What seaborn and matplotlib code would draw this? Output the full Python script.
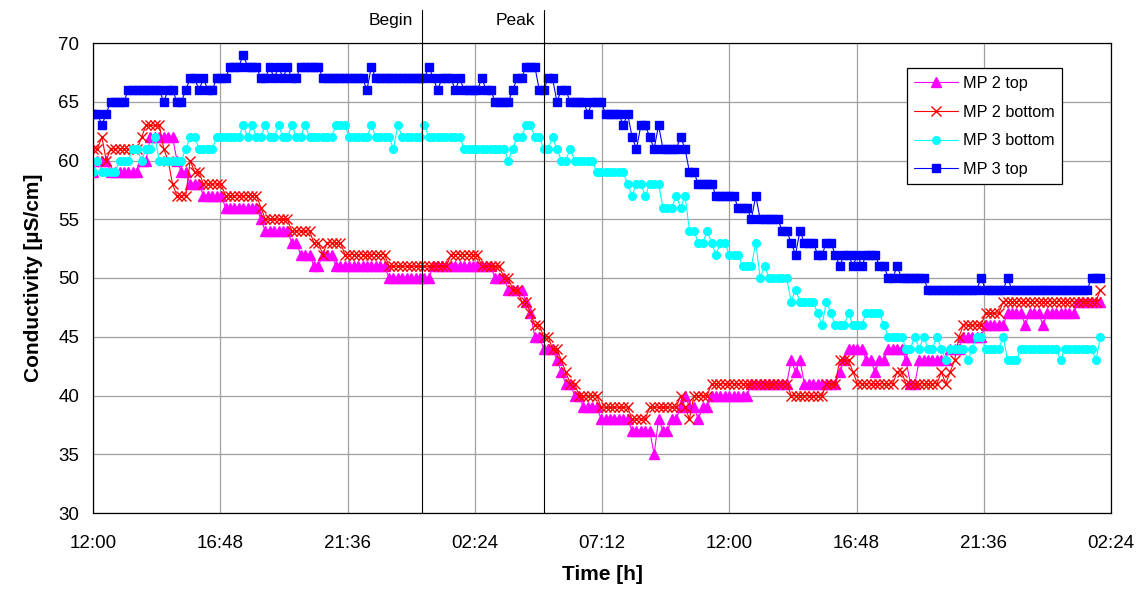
import numpy as np
import pandas as pd
import matplotlib
matplotlib.use("Agg")
import matplotlib.pyplot as plt
import matplotlib.dates as mdates
import seaborn as sns

mp2_top = [(59, 1), (60, 3), (59, 7), (60, 2), (62, 6), (60, 1), (59, 2), (58, 3),
           (57, 5), (56, 8), (55, 1), (54, 6), (53, 2), (52, 3), (51, 2), (52, 3),
           (51, 12), (50, 10), (51, 14), (50, 3), (49, 4), (48, 1), (47, 1), (45, 2),
           (44, 3), (43, 1), (42, 1), (41, 2), (40, 2), (39, 4), (38, 7), (37, 5),
           (35, 1), (38, 1), (37, 2), (38, 2), (39, 1), (40, 1), (39, 2), (38, 1),
           (39, 2), (40, 9), (41, 9), (43, 1), (42, 1), (43, 1), (41, 8), (42, 1),
           (43, 1), (44, 4), (43, 2), (42, 1), (43, 2), (44, 4), (43, 1), (41, 2),
           (43, 7), (44, 3), (45, 5), (46, 5), (47, 4), (46, 1), (47, 3), (46, 1),
           (47, 7), (48, 6)]

mp2_bottom = [(61, 2), (62, 1), (60, 1), (61, 7), (62, 1), (63, 4), (61, 1), (60, 1),
              (58, 1), (57, 3), (60, 1), (59, 2), (58, 5), (57, 8), (56, 1), (55, 6),
              (54, 5), (53, 2), (52, 1), (53, 4), (52, 10), (51, 14), (52, 7), (51, 5),
              (50, 2), (49, 2), (48, 2), (47, 1), (46, 2), (45, 2), (44, 2), (43, 1),
              (42, 1), (41, 2), (40, 5), (39, 7), (38, 4), (39, 7), (40, 1), (39, 1),
              (38, 1), (40, 4), (41, 18), (40, 8), (41, 3), (43, 3), (42, 1), (41, 9),
              (42, 2), (41, 8), (42, 1), (41, 1), (42, 1), (43, 1), (45, 1), (46, 5),
              (47, 4), (48, 22), (49, 1)]

mp3_bottom = [(59, 1), (60, 1), (59, 4), (60, 3), (61, 2), (60, 1), (61, 2), (62, 1),
              (60, 6), (61, 1), (62, 2), (61, 4), (62, 6), (63, 1), (62, 1), (63, 1),
              (62, 2), (63, 1), (62, 2), (63, 1), (62, 2), (63, 1), (62, 2), (63, 1),
              (62, 6), (63, 3), (62, 5), (63, 1), (62, 4), (61, 1), (63, 1), (62, 5),
              (63, 1), (62, 8), (61, 10), (60, 1), (61, 1), (62, 2), (63, 2), (62, 2),
              (61, 2), (62, 1), (61, 1), (60, 2), (61, 1), (60, 5), (59, 7), (58, 1),
              (57, 1), (58, 2), (57, 1), (58, 3), (56, 3), (57, 1), (56, 1), (57, 1),
              (54, 2), (53, 2), (54, 1), (53, 1), (52, 1), (53, 2), (52, 3), (51, 3),
              (53, 1), (50, 1), (51, 1), (50, 5), (48, 1), (49, 1), (48, 4), (47, 1),
              (46, 1), (48, 1), (47, 1), (46, 3), (47, 1), (46, 3), (47, 4), (46, 1),
              (45, 4), (44, 2), (45, 1), (44, 1), (45, 1), (44, 2), (45, 1), (44, 1),
              (43, 1), (44, 4), (43, 1), (44, 1), (45, 2), (44, 4), (45, 1), (43, 3),
              (44, 9), (43, 1), (44, 7), (43, 1), (45, 1)]

mp3_top = [(64, 2), (63, 1), (64, 1), (65, 4), (66, 8), (65, 1), (66, 2), (65, 2),
           (66, 1), (67, 2), (66, 1), (67, 1), (66, 2), (67, 3), (68, 3), (69, 1),
           (68, 3), (67, 2), (68, 1), (67, 1), (68, 1), (67, 1), (68, 1), (67, 2),
           (68, 5), (67, 10), (66, 1), (68, 1), (67, 12), (68, 1), (67, 1), (66, 1),
           (67, 3), (66, 1), (67, 1), (66, 4), (67, 1), (66, 2), (65, 4), (66, 1),
           (67, 2), (68, 3), (66, 2), (67, 2), (65, 1), (66, 2), (65, 4), (64, 1),
           (65, 3), (64, 4), (63, 1), (64, 1), (62, 1), (61, 1), (63, 2), (62, 1),
           (61, 1), (63, 1), (61, 4), (62, 1), (61, 1), (59, 2), (58, 4), (57, 5),
           (56, 3), (55, 1), (57, 1), (55, 5), (54, 2), (53, 1), (52, 1), (54, 1),
           (53, 3), (52, 2), (53, 2), (52, 1), (51, 1), (52, 2), (51, 1), (52, 1),
           (51, 1), (52, 3), (51, 2), (50, 2), (51, 1), (50, 6), (49, 12), (50, 1),
           (49, 5), (50, 1), (49, 18), (50, 3)]

series_names = ["MP 2 top", "MP 2 bottom", "MP 3 bottom", "MP 3 top"]
series_runs = [mp2_top, mp2_bottom, mp3_bottom, mp3_top]
colors = ["#ff00ff", "#ff0000", "#00ffff", "#0000ff"]
markers = ["^", "x", "o", "s"]
marker_sizes = [6.5, 6.5, 5.5, 5.5]

events = {"Begin": 12.4, "Peak": 17.0}   # Stunden nach Start
start = pd.Timestamp("2000-01-01 12:00")


def expand(runs):
    vals = [v for v, n in runs]
    counts = [n for v, n in runs]
    return np.repeat(vals, counts)


sns.set_theme(style="white")
plt.rcParams['font.family'] = ['Liberation Sans', 'DejaVu Sans']
plt.rcParams['text.color'] = 'black'
plt.rcParams['axes.labelcolor'] = 'black'
plt.rcParams['xtick.color'] = 'black'
plt.rcParams['ytick.color'] = 'black'

fig = plt.figure(figsize=(11.45, 5.89), dpi=100)
ax = fig.add_axes([93 / 1145, 1 - 513 / 589, 1018 / 1145, 470 / 589])

for name, runs, col, mk, ms in zip(series_names, series_runs, colors, markers, marker_sizes):
    y = expand(runs)
    t = pd.date_range(start, periods=len(y), freq="10min")
    sns.lineplot(x=t, y=y, ax=ax, color=col, marker=mk, markersize=ms,
                 markeredgecolor=col, markeredgewidth=1.0, linewidth=0.8,
                 label=name)

# Achsen
end = start + pd.Timedelta(hours=38.4)
ax.set_xlim(start, end)
ax.set_ylim(30, 70)
ax.set_yticks(range(30, 71, 5))
ax.set_xticks(pd.date_range(start, periods=9, freq="288min"))
ax.xaxis.set_major_formatter(mdates.DateFormatter("%H:%M"))
ax.grid(True, color="#a0a0a0", linewidth=0.9)
ax.set_axisbelow(True)
for s in ax.spines.values():
    s.set_color("black")
    s.set_linewidth(0.9)
ax.tick_params(axis="both", direction="out", length=4, width=0.8,
               labelsize=13.5, pad=6)
ax.tick_params(axis="x", pad=12)
ax.set_xlabel("Time [h]", fontsize=15, fontweight="bold", labelpad=9)
ax.set_ylabel("Conductivity [µS/cm]", fontsize=15, fontweight="bold", labelpad=11)

# Ereignislinien
for label, h in events.items():
    tx = start + pd.Timedelta(hours=h)
    ax.axvline(tx, ymin=0, ymax=1.07, color="black", linewidth=0.8, clip_on=False)
    ax.text(tx - pd.Timedelta(minutes=20), 71.9, label, ha="right", va="center",
            fontsize=12.5)

leg = ax.legend(loc="upper left", bbox_to_anchor=(0.7996, 0.946), borderaxespad=0,
                fontsize=11.7, frameon=True, fancybox=False, edgecolor="black",
                framealpha=1, handlelength=2.7, handletextpad=0.3,
                labelspacing=0.85, borderpad=0.45)
leg.get_frame().set_linewidth(0.9)

fig.savefig("out.png", dpi=100)
